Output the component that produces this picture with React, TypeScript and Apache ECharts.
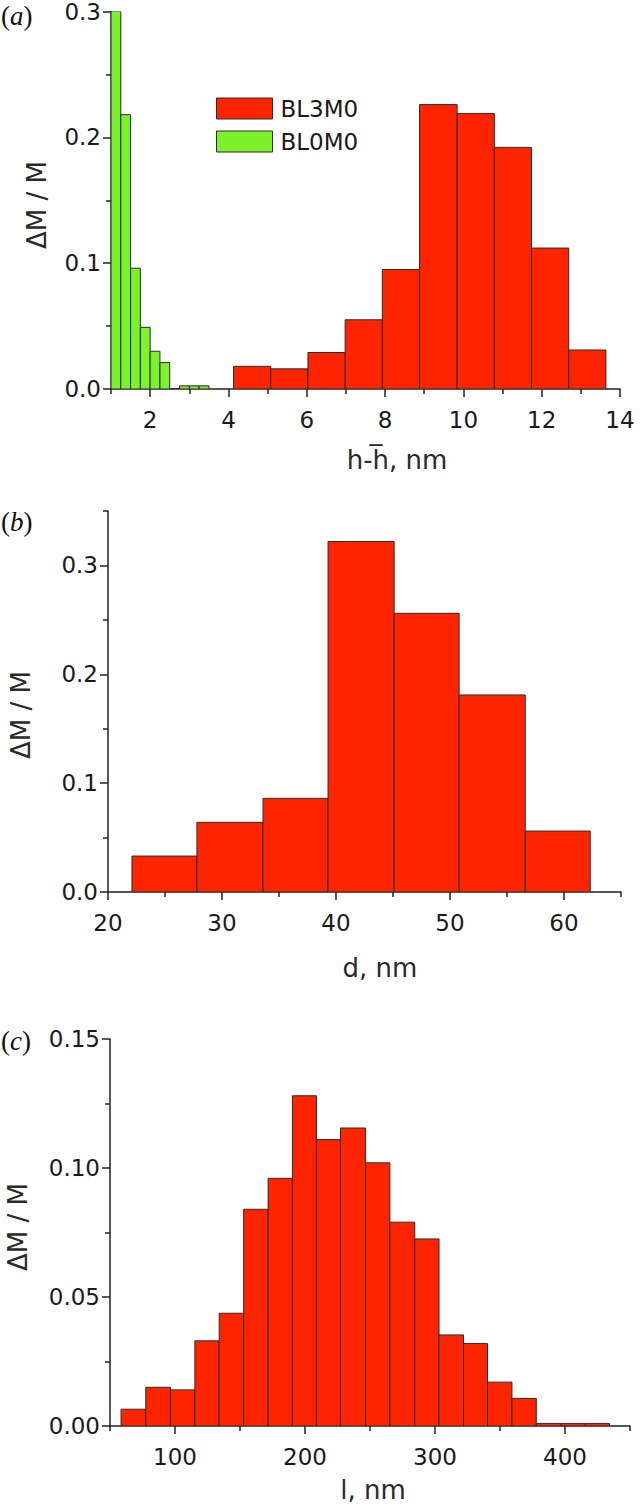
import React, { useEffect, useRef } from "react";
import * as echarts from "echarts";

// ---------- DATA ----------
// Panel (a): h - h̄, nm
const aRedEdges = [4.13, 5.08, 6.03, 6.98, 7.93, 8.88, 9.84, 10.79, 11.74, 12.69, 13.64];
const aRedValues = [0.018, 0.016, 0.029, 0.055, 0.095, 0.226, 0.219, 0.192, 0.112, 0.031];
const aGreenEdges = [1.0, 1.25, 1.5, 1.75, 2.0, 2.25, 2.5, 2.75, 3.0, 3.25, 3.5];
const aGreenValues = [0.3, 0.218, 0.096, 0.049, 0.03, 0.021, 0, 0.0025, 0.0025, 0.0025];
const aXMajor = [2, 4, 6, 8, 10, 12, 14];
const aXMinor = [1, 3, 5, 7, 9, 11, 13];
const aYMajor = [0, 0.1, 0.2, 0.3];
const aYMinor = [0.05, 0.15, 0.25];

// Panel (b): d, nm
const bEdges = [22.1, 27.8, 33.6, 39.3, 45.1, 50.8, 56.6, 62.3];
const bValues = [0.033, 0.064, 0.086, 0.322, 0.256, 0.181, 0.056];
const bXMajor = [20, 30, 40, 50, 60];
const bXMinor = [25, 35, 45, 55, 65];
const bYMajor = [0, 0.1, 0.2, 0.3];
const bYMinor = [0.05, 0.15, 0.25, 0.35];

// Panel (c): l, nm
const cEdges = [
  58.5, 77.5, 96.5, 115.3, 134.0, 152.8, 171.6, 190.3, 208.8, 227.3, 246.6,
  265.3, 284.4, 303.1, 321.9, 340.4, 359.2, 377.9, 396.7, 415.5, 434.2,
];
const cValues = [
  0.0065, 0.015, 0.014, 0.033, 0.0437, 0.084, 0.096, 0.128, 0.111, 0.1155,
  0.102, 0.079, 0.0725, 0.0353, 0.032, 0.017, 0.0107, 0.001, 0.001, 0.001,
];
const cXMajor = [100, 200, 300, 400];
const cXMinor = [50, 150, 250, 350, 450];
const cYMajor = [0, 0.05, 0.1, 0.15];
const cYMinor = [0.025, 0.075, 0.125];

const seriesNames = ["BL3M0", "BL0M0"];
const RED = "#FF2400";
const GREEN = "#7DF22C";
const EDGE = "#2b2b2b";
const AXIS = "#222";
const TXT = "#1a1a1a";
const FONT = "DejaVu Sans";

function hist(name: string, edges: number[], values: number[], color: string, idx: number) {
  const data = values.map((v, i) => [edges[i], edges[i + 1], v]);
  return {
    type: "custom",
    name,
    xAxisIndex: idx * 2,
    yAxisIndex: idx * 2,
    data,
    encode: { x: [0, 1], y: 2 },
    clip: true,
    itemStyle: { color, borderColor: EDGE, borderWidth: 1 },
    renderItem: (_p: any, api: any) => {
      const p0 = api.coord([api.value(0), api.value(2)]);
      const p1 = api.coord([api.value(1), 0]);
      return {
        type: "rect",
        shape: { x: p0[0], y: p0[1], width: p1[0] - p0[0], height: p1[1] - p0[1] },
        style: { fill: color, stroke: EDGE, lineWidth: 1 },
      };
    },
  };
}

function xAxes(grid: number, min: number, max: number, major: number[], minor: number[]) {
  return [
    {
      type: "value",
      gridIndex: grid,
      min,
      max,
      position: "bottom",
      axisLine: { show: true, onZero: false, lineStyle: { color: AXIS, width: 1.5 } },
      axisTick: { show: true, inside: false, length: 8, customValues: major, lineStyle: { color: AXIS, width: 1.5 } },
      axisLabel: {
        show: true,
        customValues: major,
        margin: 19,
        fontSize: 23,
        color: TXT,
        fontFamily: FONT,
        formatter: (v: number) => String(v),
      },
      splitLine: { show: false },
    },
    {
      type: "value",
      gridIndex: grid,
      min,
      max,
      position: "bottom",
      axisLine: { show: false, onZero: false },
      axisTick: { show: true, inside: false, length: 5, customValues: minor, lineStyle: { color: AXIS, width: 1.5 } },
      axisLabel: { show: false },
      splitLine: { show: false },
    },
  ];
}

function yAxes(grid: number, min: number, max: number, major: number[], minor: number[], digits: number) {
  return [
    {
      type: "value",
      gridIndex: grid,
      min,
      max,
      position: "left",
      axisLine: { show: true, onZero: false, lineStyle: { color: AXIS, width: 1.5 } },
      axisTick: { show: true, inside: false, length: 8, customValues: major, lineStyle: { color: AXIS, width: 1.5 } },
      axisLabel: {
        show: true,
        customValues: major,
        margin: 10,
        fontSize: 23,
        color: TXT,
        fontFamily: FONT,
        formatter: (v: number) => v.toFixed(digits),
      },
      splitLine: { show: false },
    },
    {
      type: "value",
      gridIndex: grid,
      min,
      max,
      position: "left",
      axisLine: { show: false, onZero: false },
      axisTick: { show: true, inside: false, length: 5, customValues: minor, lineStyle: { color: AXIS, width: 1.5 } },
      axisLabel: { show: false },
      splitLine: { show: false },
    },
  ];
}

function titleText(text: string, x: number, y: number, rotate = false) {
  return {
    type: "text",
    x,
    y,
    rotation: rotate ? Math.PI / 2 : 0,
    style: {
      text,
      fontSize: 26,
      fontFamily: FONT,
      fill: "#2a2a2a",
      align: "center",
      verticalAlign: "middle",
    },
  };
}

function panelLabel(letter: string, y: number) {
  return {
    type: "text",
    x: 1,
    y,
    style: {
      text: `{p|(}{i|${letter}}{p|)}`,
      rich: {
        p: { fontFamily: "Liberation Serif", fontSize: 27, fill: "#111" },
        i: { fontFamily: "Liberation Serif", fontStyle: "italic", fontSize: 27, fill: "#111" },
      },
      verticalAlign: "top",
    },
  };
}

export default function App() {
  const ref = useRef<HTMLDivElement>(null);
  useEffect(() => {
    if (!ref.current) return;
    const chart = echarts.init(ref.current, undefined, { renderer: "svg" });
    const option = {
      animation: false,
      backgroundColor: "#ffffff",
      textStyle: { fontFamily: FONT },
      grid: [
        { left: 111, top: 10, width: 509, height: 379 },
        { left: 108, top: 511, width: 513, height: 381 },
        { left: 110, top: 1039, width: 520, height: 387 },
      ],
      xAxis: [
        ...xAxes(0, 1, 14, aXMajor, aXMinor),
        ...xAxes(1, 20, 65, bXMajor, bXMinor),
        ...xAxes(2, 50, 450, cXMajor, cXMinor),
      ],
      yAxis: [
        ...yAxes(0, 0, 0.3, aYMajor, aYMinor, 1),
        ...yAxes(1, 0, 0.35, bYMajor, bYMinor, 1),
        ...yAxes(2, 0, 0.15, cYMajor, cYMinor, 2),
      ],
      legend: {
        show: true,
        orient: "vertical",
        left: 211,
        top: 92,
        itemWidth: 56,
        itemHeight: 21,
        itemGap: 10,
        icon: "rect",
        data: seriesNames,
        textStyle: { fontSize: 23, color: TXT, fontFamily: FONT, padding: [0, 0, 0, 3] },
        itemStyle: { borderColor: EDGE, borderWidth: 1 },
      },
      graphic: [
        panelLabel("a", 2),
        panelLabel("b", 508),
        panelLabel("c", 1027),
        titleText("h-h\u0305, nm", 397, 460),
        titleText("d, nm", 380, 968),
        titleText("l, nm", 373, 1490),
        titleText("\u0394M / M", 37, 205, true),
        titleText("\u0394M / M", 21, 715, true),
        titleText("\u0394M / M", 18, 1227, true),
      ],
      series: [
        hist(seriesNames[0], aRedEdges, aRedValues, RED, 0),
        hist(seriesNames[1], aGreenEdges, aGreenValues, GREEN, 0),
        hist("d", bEdges, bValues, RED, 1),
        hist("l", cEdges, cValues, RED, 2),
      ],
    };
    chart.setOption(option as any);
    return () => chart.dispose();
  }, []);
  return (
    <div
      ref={ref}
      style={{ position: "absolute", left: 0, top: 0, width: 640, height: 1506 }}
    />
  );
}
